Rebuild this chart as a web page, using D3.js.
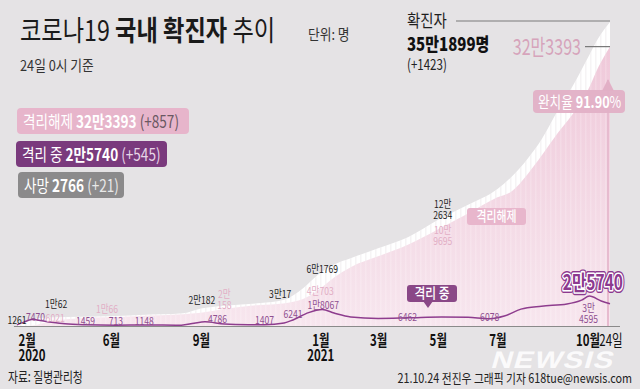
<!DOCTYPE html>
<html>
<head>
<meta charset="utf-8">
<script src="https://cdn.jsdelivr.net/npm/d3@7"></script>
<style>
  body { margin: 0; background: #e5e3e5; }
  svg { display: block; font-family: "Noto Sans CJK KR", "Noto Sans", sans-serif; }
  text { white-space: pre; }
</style>
</head>
<body>
<div id="chart"></div>
<script>
// cumulative confirmed / released
var cumDates = ["2020-02-26", "2020-03-11", "2020-04-03", "2020-05-01", "2020-05-28", "2020-07-01",
  "2020-08-14", "2020-09-01", "2020-09-28", "2020-11-01", "2020-11-24", "2020-12-15", "2020-12-29",
  "2021-01-15", "2021-02-01", "2021-03-01", "2021-04-01", "2021-05-01", "2021-06-01", "2021-07-01",
  "2021-07-15", "2021-08-01", "2021-08-15", "2021-09-01", "2021-09-15", "2021-10-03", "2021-10-12", "2021-10-24"];
var confirmed = [1261, 7755, 10062, 10774, 11344, 12850,
  14770, 20182, 23699, 26635, 30017, 44364, 58725,
  71241, 78508, 90029, 103088, 122634, 140340, 158549,
  172296, 194000, 216000, 250000, 276000, 314000, 333000, 351899];
var released = [22, 288, 6021, 9072, 10066, 11684,
  13600, 15198, 20158, 24395, 26148, 31493, 40703,
  56000, 68000, 80600, 94300, 111800, 130300, 149000,
  155500, 176000, 197000, 224000, 244000, 276700, 299500, 323393];

// in isolation (격리 중)
var actDates = ["2020-02-26", "2020-03-04", "2020-03-12", "2020-03-28", "2020-04-15", "2020-05-06",
  "2020-06-06", "2020-07-05", "2020-08-12", "2020-08-25", "2020-09-05", "2020-09-25", "2020-10-20",
  "2020-11-05", "2020-11-25", "2020-12-04", "2020-12-20", "2021-01-03", "2021-01-15", "2021-02-01",
  "2021-03-01", "2021-04-01", "2021-05-05", "2021-06-01", "2021-06-23", "2021-07-08", "2021-07-25",
  "2021-08-15", "2021-09-10", "2021-09-25", "2021-10-03", "2021-10-15", "2021-10-24"];
var active = [1227, 4500, 7470, 5000, 2500, 1459,
  1000, 1148, 900, 3200, 4786, 2300, 1500,
  1407, 3500, 7000, 15500, 19000, 15000, 10500,
  8800, 9500, 10500, 10000, 8500, 11500, 19500,
  23000, 25500, 30000, 34595, 29000, 25740];

// x axis
var tickDates = ["2020-02-26", "2020-06-01", "2020-09-01", "2021-01-01", "2021-03-01", "2021-05-01", "2021-07-01", "2021-10-01"];
var monthLabels = ["2월", "6월", "9월", "1월", "3월", "5월", "7월", "10월"];
var yearLabels = ["2020", "", "", "2021", "", "", "", ""];

// legend
var legendNames = ["격리해제 ", "격리 중 ", "사망 "];
var legendTotals = ["32만3393", "2만5740", "2766"];
var legendDiffs = [" (+857)", " (+545)", " (+21)"];

// value notes on the curves: [date, value, text]
var confirmedNotes = [["2020-02-26", 1261, "1261"], ["2020-04-06", 10062, "1만62"], ["2020-09-02", 20182, "2만182"],
  ["2020-11-21", 30017, "3만17"], ["2021-01-03", 61769, "6만1769"], ["2021-05-06", 122634, "12만|2634"]];
var releasedNotes = [["2020-04-05", 6021, "6021"], ["2020-05-28", 10066, "1만66"], ["2020-09-25", 20158, "2만|158"],
  ["2021-01-01", 40703, "4만703"], ["2021-05-06", 109695, "10만|9695"]];
var activeNotes = [["2020-03-16", 7470, "7470"], ["2020-05-06", 1459, "1459"], ["2020-06-06", 713, "713"],
  ["2020-07-05", 1148, "1148"], ["2020-09-18", 4786, "4786"], ["2020-11-05", 1407, "1407"],
  ["2020-12-04", 6241, "6241"], ["2021-01-04", 18067, "1만8067"], ["2021-03-31", 6462, "6462"],
  ["2021-06-23", 6078, "6078"], ["2021-10-02", 34595, "3만|4595"]];

var totalConfirmed = 351899;
var totalReleased = 323393;

// offsets of the notes from their point (layout only)
var confirmedDy = [-1, -9, -4.6, -2, 0, -1];
var releasedDy = [1, -4, 0.4, 4, 14];
var activeDy = [1.5, 0, 0, 0, 1, -1, -2.6, -1.4, 0.6, 0, 27];

var svgWidth = 640;
var svgHeight = 389;
var parse = d3.timeParse("%Y-%m-%d");

var svg = d3.select("#chart").append("svg")
  .attr("width", svgWidth)
  .attr("height", svgHeight);

svg.append("rect").attr("width", svgWidth).attr("height", svgHeight).attr("fill", "#e5e3e5");

var x = d3.scaleTime()
  .domain([parse("2020-02-01"), parse("2021-10-24")])
  .range([-7.5, 610]);
var y = d3.scaleLinear()
  .domain([0, totalConfirmed])
  .range([326, 22]);

var defs = svg.append("defs");
var grad = defs.append("linearGradient").attr("id", "pinkGrad")
  .attr("gradientUnits", "userSpaceOnUse").attr("x1", 0).attr("x2", 0).attr("y1", 40).attr("y2", 326);
grad.append("stop").attr("offset", 0).attr("stop-color", "#efc8d9");
grad.append("stop").attr("offset", 1).attr("stop-color", "#f7e6ee");

var pat = defs.append("pattern").attr("id", "stripeW")
  .attr("patternUnits", "userSpaceOnUse").attr("width", 5).attr("height", 10);
pat.append("rect").attr("width", 1.5).attr("height", 10).attr("fill", "#fff").attr("opacity", 0.18);
var patG = defs.append("pattern").attr("id", "stripeG")
  .attr("patternUnits", "userSpaceOnUse").attr("width", 5).attr("height", 10);
patG.append("rect").attr("width", 1.5).attr("height", 10).attr("fill", "#e2dce0").attr("opacity", 0.3);

// helper for condensed text
function label(parent, px, py, parts, o) {
  var t = parent.append("text")
    .attr("transform", `translate(${px},${py}) scale(${o.sx || 0.8},1)`)
    .attr("font-size", o.fs || 12)
    .attr("text-anchor", o.anchor || "start")
    .attr("fill", o.fill || "#222");
  parts.forEach(function(p) {
    if (typeof p === "string") p = [p];
    t.append("tspan").text(p[0])
      .attr("font-weight", p[1] || null)
      .attr("fill", p[2] || null);
  });
  return t;
}

var cumData = cumDates.map(function(d, i) {
  return { date: parse(d), confirmed: confirmed[i], released: released[i] };
});
var actData = actDates.map(function(d, i) {
  return { date: parse(d), active: active[i] };
});

var areaConfirmed = d3.area()
  .x(d => x(d.date)).y0(y(0)).y1(d => y(d.confirmed))
  .curve(d3.curveMonotoneX);
var areaReleased = d3.area()
  .x(d => x(d.date)).y0(y(0)).y1(d => y(d.released))
  .curve(d3.curveMonotoneX);

svg.append("path").datum(cumData).attr("d", areaConfirmed).attr("fill", "#ffffff");
svg.append("path").datum(cumData).attr("d", areaConfirmed).attr("fill", "url(#stripeG)");
svg.append("path").datum(cumData).attr("d", areaReleased).attr("fill", "url(#pinkGrad)");
svg.append("path").datum(cumData).attr("d", areaReleased).attr("fill", "url(#stripeW)");

var endDate = parse("2021-10-24");
var xEnd = x(endDate);

// callout line for the recovery rate
svg.append("line")
  .attr("x1", xEnd - 2).attr("x2", xEnd - 2)
  .attr("y1", 80).attr("y2", y(0))
  .attr("stroke", "#e7bbcf").attr("stroke-width", 2);

// axis
var xAxis = d3.axisBottom(x)
  .tickValues(tickDates.map(parse))
  .tickSize(0)
  .tickFormat((d, i) => monthLabels[i]);

var axisG = svg.append("g")
  .attr("transform", `translate(0, ${y(0)})`)
  .call(xAxis);
axisG.select(".domain").remove();
axisG.selectAll("text")
  .attr("y", 20)
  .attr("dy", null)
  .attr("font-size", 15.5)
  .attr("font-weight", 700)
  .attr("font-family", '"Noto Sans CJK KR", sans-serif')
  .attr("fill", "#111")
  .attr("transform", (d, i) => i === 0 ? "translate(1,0) scale(0.74,1)" : "scale(0.74,1)")
  .attr("text-anchor", (d, i) => i === 0 ? "start" : "middle")
  .each(function(d, i) {
    if (yearLabels[i]) {
      d3.select(this).append("tspan").attr("x", 0).attr("dy", 15).text(yearLabels[i]);
    }
  });

svg.append("line")
  .attr("x1", x(cumData[0].date) - 3).attr("x2", xEnd + 10)
  .attr("y1", y(0) + 0.5).attr("y2", y(0) + 0.5)
  .attr("stroke", "#8a8a8a").attr("stroke-width", 1);

label(svg, xEnd + 1, y(0) + 20, [["24일", 400]], { fs: 15.5, sx: 0.74, anchor: "middle", fill: "#111" });

// active line
var line = d3.line()
  .x(d => x(d.date)).y(d => y(d.active))
  .curve(d3.curveMonotoneX);
svg.append("path").datum(actData).attr("d", line)
  .attr("fill", "none").attr("stroke", "#8e3d8e").attr("stroke-width", 1.5);

// notes (two-line notes kept in one text element)
function drawNotes(notes, dys, color) {
  notes.forEach(function(n, i) {
    var lines = n[2].split("|");
    var cx = x(parse(n[0]));
    var by = y(n[1]) + dys[i] - (lines.length - 1) * 11;
    var t = label(svg, cx, by, [], { fs: 11, sx: 0.78, anchor: "middle", fill: color });
    lines.forEach(function(s, j) {
      t.append("tspan").attr("x", 0).attr("dy", j === 0 ? 0 : 11).text(s);
    });
  });
}
drawNotes(confirmedNotes, confirmedDy, "#1e1e1e");
drawNotes(releasedNotes, releasedDy, "#e2aec5");
drawNotes(activeNotes, activeDy, "#8f4f90");

// big current value
var bigX = 623, bigY = 290;
label(svg, bigX, bigY, [["2만5740", 700]], { fs: 21, sx: 0.74, anchor: "end", fill: "#8c3a8f" })
  .attr("stroke", "#8c3a8f").attr("stroke-width", 6).attr("stroke-linejoin", "round");
label(svg, bigX, bigY, [["2만5740", 700]], { fs: 21, sx: 0.74, anchor: "end", fill: "#8c3a8f" })
  .attr("stroke", "#ffffff").attr("stroke-width", 3.2).attr("stroke-linejoin", "round");
label(svg, bigX, bigY, [["2만5740", 700]], { fs: 21, sx: 0.74, anchor: "end", fill: "#8c3a8f" });

// in-chart tags
svg.append("rect").attr("x", 467).attr("y", 208).attr("width", 59).attr("height", 17).attr("rx", 3)
  .attr("fill", "#e8b6cc");
label(svg, 496.5, 221, [["격리해제", 500]], { fs: 14, sx: 0.78, anchor: "middle", fill: "#fff" });

svg.append("rect").attr("x", 407).attr("y", 285).attr("width", 50).attr("height", 17).attr("rx", 3)
  .attr("fill", "#8a4887");
svg.append("path").attr("d", "M423,301 L433,301 L428,308 Z").attr("fill", "#8a4887");
label(svg, 432, 298, [["격리 중", 500]], { fs: 14, sx: 0.84, anchor: "middle", fill: "#fff" });

// recovery rate box
svg.append("path").attr("d", `M${xEnd - 8},91 L${xEnd + 4},91 L${xEnd - 2},79 Z`).attr("fill", "#e2b0c6");
svg.append("rect").attr("x", 533).attr("y", 90).attr("width", 92).attr("height", 23).attr("rx", 4)
  .attr("fill", "#e2b0c6").attr("opacity", 0.95);
label(svg, 538, 108, ["완치율 ", ["91.90", 700], "%"], { fs: 16, sx: 0.79, fill: "#fff" });

// top right callouts
svg.append("line").attr("x1", 456).attr("x2", xEnd).attr("y1", y(totalConfirmed) - 1).attr("y2", y(totalConfirmed) - 1)
  .attr("stroke", "#7a7a7a").attr("stroke-width", 1.2);
svg.append("line").attr("x1", 585).attr("x2", xEnd).attr("y1", y(totalReleased)).attr("y2", y(totalReleased))
  .attr("stroke", "#7a7a7a").attr("stroke-width", 1.2);
label(svg, 407, 27, ["확진자"], { fs: 17, sx: 0.85, fill: "#1e1e1e" });
label(svg, 407, 51, [["35만1899명", 800]], { fs: 18.5, sx: 0.81, fill: "#111" });
label(svg, 407, 70, ["(+1423)"], { fs: 15, sx: 0.77, fill: "#222" });
label(svg, 581, 55, ["32만3393"], { fs: 22, sx: 0.73, anchor: "end", fill: "#d6a4bb" });

// title
label(svg, 20, 41, ["코로나19 ", ["국내 확진자", 700], " 추이"], { fs: 28, sx: 0.83, fill: "#1a1a1a" });
label(svg, 308, 40, ["단위: 명"], { fs: 15, sx: 0.85, fill: "#333" });
label(svg, 20, 71, ["24일 0시 기준"], { fs: 15, sx: 0.85, fill: "#333" });

// legend boxes
var legendBox = [
  { x: 17, y: 108, w: 172, fill: "#e7b5cb", diff: "#6a5862" },
  { x: 16, y: 141, w: 151, fill: "#7a3a7d", diff: "#e6d6e7" },
  { x: 18, y: 172, w: 106, fill: "#8b8a8b", diff: "#e8e8e8" }
];
legendNames.forEach(function(name, i) {
  var b = legendBox[i];
  svg.append("rect").attr("x", b.x).attr("y", b.y).attr("width", b.w).attr("height", 26).attr("rx", 4)
    .attr("fill", b.fill);
  label(svg, b.x + 6, b.y + 20, [name, [legendTotals[i], 700], [legendDiffs[i], 400, b.diff]],
    { fs: 17, sx: 0.8, fill: "#fff" });
});

// footer
label(svg, 8, 382, ["자료: 질병관리청"], { fs: 14, sx: 0.77, fill: "#222" });
label(svg, 632, 383, ["21.10.24 전진우 그래픽 기자 618tue@newsis.com"], { fs: 13, sx: 0.83, anchor: "end", fill: "#222" });
svg.append("text")
  .attr("transform", "translate(490,368) skewX(-16) scale(1.22,1)")
  .attr("font-family", '"Liberation Sans", Arial, sans-serif')
  .attr("font-size", 24).attr("font-weight", 700)
  .attr("fill", "#ffffff").attr("opacity", 0.85)
  .attr("letter-spacing", 1)
  .text("NEWSIS");
</script>
</body>
</html>
